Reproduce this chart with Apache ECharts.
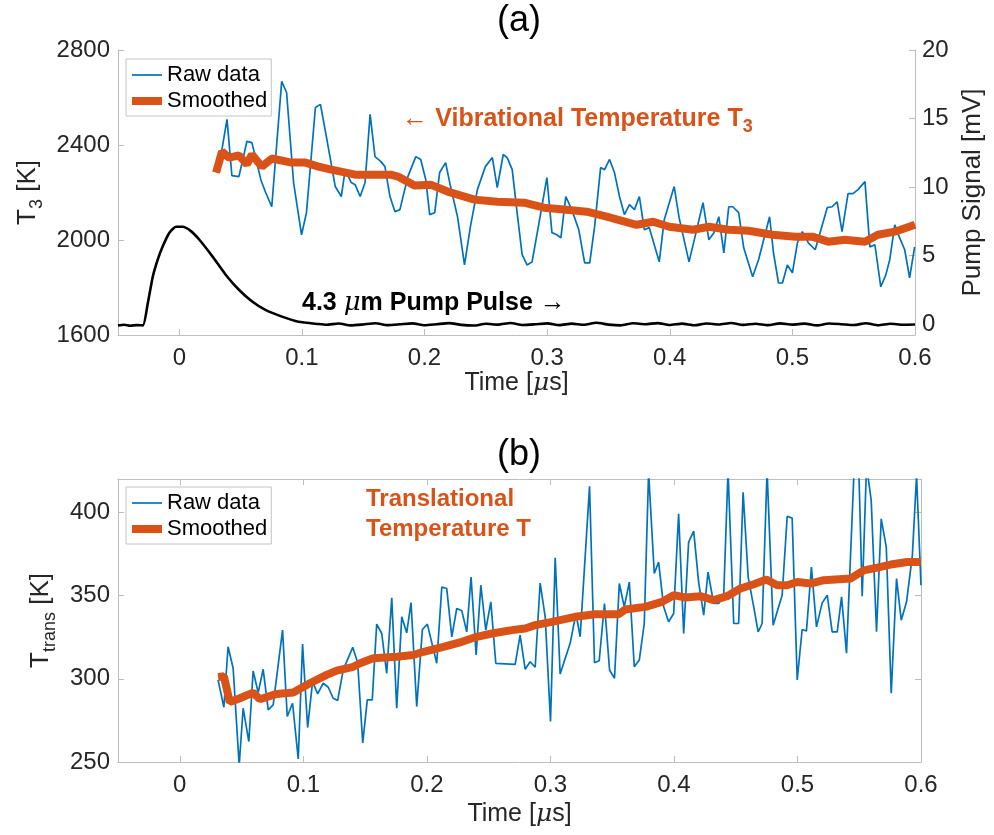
<!DOCTYPE html>
<html><head><meta charset="utf-8">
<script src="https://cdn.jsdelivr.net/npm/echarts@6/dist/echarts.min.js"></script>
<style>html,body{margin:0;padding:0;background:#fff}#c{width:994px;height:835px}</style>
</head><body><div id="c"></div>
<script>
// ---------- tick labels ----------
const xTicks = [0, 0.1, 0.2, 0.3, 0.4, 0.5, 0.6];
const t3Ticks = [1600, 2000, 2400, 2800];
const pumpTicks = [0, 5, 10, 15, 20];
const transTicks = [250, 300, 350, 400];

// ---------- (a) raw vibrational temperature T3 ----------
const rawT3Time = [0.0324,0.0389,0.0429,0.0486,0.0551,0.0592,0.0665,0.0705,0.0754,0.0835,0.0875,0.0932,0.0997,0.1037,0.1110,0.1151,0.1199,0.1272,0.1321,0.1353,0.1402,0.1434,0.1475,0.1515,0.1556,0.1596,0.1645,0.1677,0.1718,0.1759,0.1799,0.1864,0.1929,0.1969,0.2010,0.2042,0.2083,0.2123,0.2172,0.2212,0.2269,0.2326,0.2374,0.2431,0.2496,0.2553,0.2593,0.2642,0.2674,0.2715,0.2755,0.2796,0.2836,0.2877,0.2934,0.2998,0.3039,0.3079,0.3112,0.3152,0.3201,0.3258,0.3306,0.3347,0.3387,0.3436,0.3468,0.3509,0.3549,0.3590,0.3630,0.3671,0.3712,0.3752,0.3793,0.3833,0.3914,0.3955,0.4036,0.4076,0.4157,0.4214,0.4271,0.4319,0.4360,0.4400,0.4441,0.4481,0.4514,0.4562,0.4603,0.4676,0.4724,0.4814,0.4846,0.4887,0.4919,0.4959,0.5000,0.5041,0.5081,0.5130,0.5186,0.5284,0.5324,0.5365,0.5405,0.5454,0.5494,0.5535,0.5592,0.5632,0.5673,0.5721,0.5762,0.5794,0.5835,0.5875,0.5916,0.5956,0.5997];
const rawT3 = [2309,2508,2271,2267,2415,2410,2254,2199,2140,2668,2621,2242,2022,2115,2558,2571,2436,2225,2183,2296,2242,2233,2183,2242,2529,2351,2330,2309,2183,2119,2128,2267,2351,2339,2254,2107,2115,2284,2326,2225,2098,1895,2056,2212,2309,2347,2221,2360,2347,2296,2115,1938,1895,1908,2073,2263,2031,2022,2009,2183,2128,2043,1904,1904,2056,2305,2296,2339,2284,2183,2107,2149,2128,2183,2043,2052,1908,2085,2225,2094,1908,2031,2157,2001,2031,2098,1946,2140,2140,2115,1967,1845,1917,2098,1946,1819,1819,1895,1862,1988,2035,1988,1959,2136,2140,2161,2035,2195,2195,2212,2246,1971,1980,1803,1853,1917,2064,2009,1959,1841,1971];

// ---------- (a) smoothed T3 ----------
const smT3Time = [0.0300,0.0348,0.0405,0.0486,0.0551,0.0592,0.0673,0.0754,0.0916,0.1029,0.1135,0.1240,0.1434,0.1726,0.1783,0.1921,0.2050,0.2188,0.2407,0.2593,0.2812,0.2974,0.3136,0.3323,0.3485,0.3728,0.3865,0.3995,0.4190,0.4319,0.4481,0.4643,0.4838,0.5024,0.5162,0.5292,0.5429,0.5592,0.5697,0.5835,0.6000];
const smT3 = [2284,2372,2347,2356,2318,2360,2309,2343,2326,2326,2309,2296,2275,2275,2267,2229,2233,2204,2170,2161,2157,2136,2128,2119,2098,2064,2077,2056,2043,2056,2043,2039,2022,2014,2014,1993,2001,1993,2022,2035,2064];

// ---------- (a) pump pulse [mV] ----------
const pumpTime = [-0.050,-0.045,-0.040,-0.035,-0.0297,-0.0257,-0.0216,-0.0176,-0.0135,-0.0081,-0.0027,0.0027,0.0095,0.0162,0.0270,0.0378,0.0486,0.0594,0.0702,0.0837,0.0972,0.1135,0.12,0.13,0.14,0.15,0.16,0.17,0.18,0.19,0.20,0.21,0.22,0.23,0.24,0.25,0.26,0.27,0.28,0.29,0.30,0.31,0.32,0.33,0.34,0.35,0.36,0.37,0.38,0.39,0.40,0.41,0.42,0.43,0.44,0.45,0.46,0.47,0.48,0.49,0.50,0.51,0.52,0.53,0.54,0.55,0.56,0.57,0.58,0.59,0.60];
const pumpSignal = [-0.10,-0.05,-0.12,-0.08,-0.10,1.52,3.47,4.70,5.67,6.66,7.10,7.10,6.78,6.17,4.94,3.60,2.50,1.64,1.03,0.54,0.17,0.00,-0.05,0.04,-0.10,-0.03,0.06,-0.08,-0.02,0.05,-0.09,-0.01,0.07,-0.06,-0.11,0.02,-0.04,0.08,-0.07,-0.02,0.05,-0.08,0.03,-0.05,0.09,-0.04,-0.10,0.06,-0.01,0.07,-0.07,0.03,-0.09,0.04,-0.03,0.08,-0.06,0.02,-0.08,0.05,-0.04,0.03,-0.10,0.04,-0.01,-0.07,0.06,-0.09,0.02,-0.05,-0.03];

// ---------- (b) raw translational temperature ----------
const rawTrTime = [0.0310,0.0357,0.0391,0.0432,0.0481,0.0513,0.0559,0.0594,0.0635,0.0675,0.0716,0.0756,0.0832,0.0870,0.0913,0.0959,0.0994,0.1035,0.1075,0.1116,0.1161,0.1202,0.1242,0.1278,0.1323,0.1400,0.1440,0.1481,0.1518,0.1558,0.1594,0.1635,0.1675,0.1716,0.1756,0.1797,0.1837,0.1872,0.1918,0.1964,0.2004,0.2080,0.2121,0.2161,0.2202,0.2242,0.2283,0.2323,0.2358,0.2399,0.2437,0.2477,0.2518,0.2558,0.2715,0.2755,0.2796,0.2836,0.2877,0.2917,0.2958,0.3001,0.3039,0.3079,0.3160,0.3207,0.3241,0.3317,0.3357,0.3395,0.3438,0.3479,0.3519,0.3558,0.3598,0.3639,0.3679,0.3720,0.3760,0.3795,0.3841,0.3876,0.3917,0.3957,0.3998,0.4038,0.4079,0.4119,0.4160,0.4200,0.4241,0.4276,0.4322,0.4362,0.4403,0.4438,0.4484,0.4524,0.4560,0.4601,0.4646,0.4682,0.4714,0.4754,0.4803,0.4876,0.4917,0.4957,0.4998,0.5038,0.5073,0.5113,0.5154,0.5200,0.5241,0.5281,0.5322,0.5357,0.5397,0.5462,0.5497,0.5524,0.5559,0.5597,0.5640,0.5678,0.5719,0.5759,0.5802,0.5840,0.5883,0.5930,0.5964,0.6000];
const rawTr = [299.3,282.9,319.2,306.3,248,282.3,262.3,304.7,291.7,305.7,281.3,284.3,329.2,277.3,285.3,251.8,320.8,270.7,298.3,290.9,297.3,294.9,288.3,286.9,305.3,318.9,309.6,261.4,287.3,287.3,332.8,327.2,303.3,348.6,282.3,337.2,327.6,345.8,283.3,329.6,332.8,309.3,355.1,354.2,325.2,342.2,340.8,328.2,361.1,314.3,356.2,329.2,346.2,309.3,308.7,326.2,305.7,310.2,306.9,357.5,337.2,274.3,372.7,302.9,321.3,339.2,325.2,415.6,309.6,310.8,345.2,305.3,300.3,357.2,343.2,358.1,307.2,311.3,333.2,424,363.2,370.1,343.2,334.2,339.2,399.1,327.2,382.1,388.7,358.1,338.2,364.1,345.2,345.2,350.2,425,333.2,333.2,412.0,361.1,343.2,328.2,333.2,425,332.2,350.2,397.6,396.5,299.3,329.6,328.8,367.1,331.2,345.6,350.2,328.2,328.2,349.2,315.3,432,425,349.6,428,407.1,328.2,396.1,379.1,291.3,360.2,335.2,346.2,374.1,422,356.2];

// ---------- (b) smoothed translational temperature ----------
const smTrTime = [0.0310,0.0357,0.0405,0.0486,0.0594,0.0648,0.0784,0.0918,0.1053,0.1189,0.1270,0.1404,0.1459,0.1566,0.1756,0.1891,0.1972,0.2134,0.2283,0.2404,0.2526,0.2688,0.2796,0.2877,0.3012,0.3201,0.3363,0.3552,0.3606,0.3768,0.3904,0.3998,0.4092,0.4214,0.4322,0.4430,0.4538,0.4646,0.4749,0.4836,0.4917,0.4998,0.5105,0.5213,0.5429,0.5537,0.5646,0.5754,0.5889,0.5997];
const smTr = [301,301.5,286,288.3,291.7,287.7,290.9,291.7,297.3,302.3,304.9,307.2,309.3,312.3,313.2,314.3,316.2,319.2,322.2,325.2,327.2,329.2,330.2,332.2,334.2,337.2,338.8,338.8,341.6,343.2,346.2,350.2,348.8,349.6,347.2,349.6,354.2,356.8,359.6,356.2,356.2,358.1,357.2,359.2,360.2,365.1,366.8,368.6,370.1,370.1];

// ---------- styling ----------
const FONT = '"Liberation Sans", Arial, Helvetica, sans-serif';
const BLUE = '#0072BD', ORANGE = '#D95319', TXT = '#262626', AXL = '#bdbdbd';
const zip = (a, b) => a.slice(0, Math.min(a.length, b.length)).map((v, i) => [v, b[i]]);
const fmtX = v => String(+(+v).toFixed(1));
const fmtY = v => String(v);

function xAx(grid, opts) {
  return Object.assign({
    type: 'value', gridIndex: grid, min: -0.05, max: 0.6,
    axisLine: { show: true, onZero: false, lineStyle: { color: AXL, width: 1 } },
    axisTick: { show: true, inside: true, length: 6, customValues: xTicks, lineStyle: { color: AXL } },
    axisLabel: { show: true, customValues: xTicks, formatter: fmtX, color: TXT, fontSize: 24, fontFamily: FONT, margin: 11 },
    splitLine: { show: false },
    nameLocation: 'middle',
    nameTextStyle: { color: TXT, fontSize: 25, fontFamily: FONT, rich: { i: { fontStyle: 'italic', fontSize: 25, fontFamily: '"DejaVu Serif", serif', color: TXT } } }
  }, opts);
}
function yAx(grid, min, max, ticks, opts) {
  return Object.assign({
    type: 'value', gridIndex: grid, min, max,
    axisLine: { show: true, onZero: false, lineStyle: { color: AXL, width: 1 } },
    axisTick: { show: true, inside: true, length: 6, customValues: ticks, lineStyle: { color: AXL } },
    axisLabel: { show: true, customValues: ticks, formatter: fmtY, color: TXT, fontSize: 24, fontFamily: FONT, margin: 8 },
    splitLine: { show: false },
    nameLocation: 'middle',
    nameTextStyle: { color: TXT, fontSize: 26, fontFamily: FONT }
  }, opts);
}
const subRich = {
  m: { fontSize: 26, fontFamily: FONT, color: TXT, lineHeight: 36 },
  s: { fontSize: 18, fontFamily: FONT, color: TXT, lineHeight: 16, verticalAlign: 'bottom' }
};

const legendBase = {
  orient: 'vertical', left: 126, itemWidth: 30, itemHeight: 14, itemGap: 4,
  padding: [5, 4, 4, 2], backgroundColor: '#fff', borderColor: '#c4c4c4', borderWidth: 1, borderRadius: 0,
  textStyle: { fontSize: 22, color: '#000', fontFamily: FONT },
  itemStyle: { opacity: 0 },
  data: [
    { name: 'Raw data', lineStyle: { width: 1.7 } },
    { name: 'Smoothed', lineStyle: { width: 8 } }
  ],
  selectedMode: false
};

const option = {
  animation: false,
  backgroundColor: '#fff',
  grid: [
    { left: 118, right: 73, top: 50, height: 285 },
    { left: 118, right: 73, top: 479, height: 283 }
  ],
  xAxis: [
    xAx(0, { name: 'Time [{i|μ}s]', nameGap: 36 }),
    xAx(1, { name: 'Time [{i|μ}s]', nameGap: 40 }),
    xAx(1, { position: 'top', axisLabel: { show: false, customValues: xTicks } })
  ],
  yAxis: [
    yAx(0, 1600, 2800, t3Ticks, { name: '{m|T}{s|3}{m| [K]}', nameGap: 66, nameTextStyle: { rich: subRich } }),
    yAx(0, -0.8, 20, pumpTicks, { position: 'right', name: 'Pump Signal [mV]', nameGap: 45, axisLabel: { show: true, customValues: pumpTicks, formatter: fmtY, color: TXT, fontSize: 24, fontFamily: FONT, margin: 7 } }),
    yAx(1, 250, 420, transTicks, { name: '{m|T}{s|trans}{m| [K]}', nameGap: 56, nameTextStyle: { rich: subRich } }),
    yAx(1, 250, 420, transTicks, { position: 'right', axisLabel: { show: false, customValues: transTicks } })
  ],
  legend: [
    Object.assign({}, legendBase, { top: 59 }),
    Object.assign({}, legendBase, { top: 487 })
  ],
  graphic: [
    { type: 'text', style: { text: '(a)', x: 519, y: 21, align: 'center', verticalAlign: 'middle', fontSize: 36, fontFamily: FONT, fill: '#000' } },
    { type: 'text', style: { text: '(b)', x: 519, y: 455, align: 'center', verticalAlign: 'middle', fontSize: 36, fontFamily: FONT, fill: '#000' } },
    { type: 'text', style: { text: '← {b|Vibrational Temperature T}{s|3}', x: 402, y: 119, verticalAlign: 'middle', fontSize: 26, fontFamily: FONT, fill: ORANGE,
        rich: { b: { fontWeight: 'bold', fontSize: 25, fontFamily: FONT, fill: ORANGE, lineHeight: 34 }, s: { fontWeight: 'bold', fontSize: 18, fontFamily: FONT, fill: ORANGE, lineHeight: 16, verticalAlign: 'bottom' } } } },
    { type: 'text', style: { text: '{b|4.3 }{mu|μ}{b|m Pump Pulse }→', x: 302, y: 303, verticalAlign: 'middle', fontSize: 26, fontFamily: FONT, fill: '#000',
        rich: { b: { fontWeight: 'bold', fontSize: 25, fontFamily: FONT, fill: '#000' }, mu: { fontStyle: 'italic', fontSize: 26, fontFamily: '"DejaVu Serif", serif', fill: '#000' } } } },
    { type: 'text', style: { text: 'Translational\nTemperature T', x: 366, y: 484, lineHeight: 30, fontWeight: 'bold', fontSize: 24, fontFamily: FONT, fill: ORANGE } }
  ],
  series: [
    { name: 'Raw data', type: 'line', xAxisIndex: 0, yAxisIndex: 0, data: zip(rawT3Time, rawT3), symbol: 'none', lineStyle: { color: BLUE, width: 1.7 }, itemStyle: { color: BLUE }, z: 2 },
    { name: 'Smoothed', type: 'line', xAxisIndex: 0, yAxisIndex: 0, data: zip(smT3Time, smT3), symbol: 'none', lineStyle: { color: ORANGE, width: 8 }, itemStyle: { color: ORANGE }, z: 3 },
    { name: 'Pump', type: 'line', xAxisIndex: 0, yAxisIndex: 1, data: zip(pumpTime, pumpSignal), symbol: 'none', smooth: 0.2, lineStyle: { color: '#000', width: 2.6 }, itemStyle: { color: '#000' }, z: 2 },
    { name: 'Raw data', type: 'line', xAxisIndex: 1, yAxisIndex: 2, data: zip(rawTrTime, rawTr), symbol: 'none', lineStyle: { color: BLUE, width: 1.7 }, itemStyle: { color: BLUE }, z: 2 },
    { name: 'Smoothed', type: 'line', xAxisIndex: 1, yAxisIndex: 2, data: zip(smTrTime, smTr), symbol: 'none', lineStyle: { color: ORANGE, width: 8 }, itemStyle: { color: ORANGE }, z: 3 }
  ]
};
const chart = echarts.init(document.getElementById('c'), null, { renderer: 'canvas' });
chart.setOption(option);
</script>
</body></html>
